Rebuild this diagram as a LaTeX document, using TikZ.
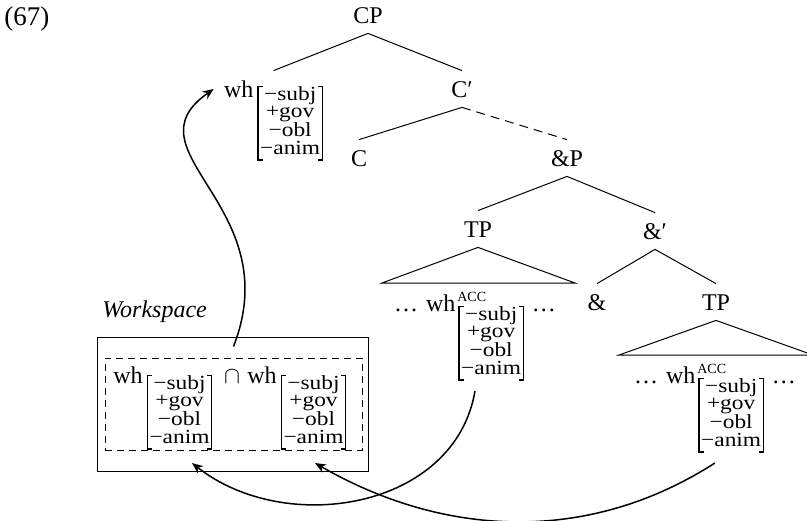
\documentclass[tikz,border=0pt]{standalone}
\usepackage{fontspec}
\setmainfont{Liberation Serif}
\newfontfamily\featfont[FakeStretch=1.17]{Liberation Serif}
\usetikzlibrary{arrows.meta}
\newsavebox{\fbx}
\newcommand{\fmat}{%
\sbox{\fbx}{\featfont\fontsize{10}{8.3}\selectfont\begin{tabular}[b]{@{}c@{}}−subj\\+gov\\−obl\\−anim\end{tabular}}%
\rlap{\rule[\dimexpr-\dp\fbx-0.5pt\relax]{2.6pt}{0.6pt}}%
\rlap{\rule[\dimexpr\ht\fbx-0.1pt\relax]{2.6pt}{0.6pt}}%
\rule[\dimexpr-\dp\fbx-0.5pt\relax]{0.6pt}{\dimexpr\ht\fbx+\dp\fbx+1pt\relax}%
\hspace{0.8pt}\usebox{\fbx}\hspace{0.8pt}%
\rule[\dimexpr-\dp\fbx-0.5pt\relax]{0.6pt}{\dimexpr\ht\fbx+\dp\fbx+1pt\relax}%
\llap{\rule[\dimexpr-\dp\fbx-0.5pt\relax]{2.6pt}{0.6pt}}%
\llap{\rule[\dimexpr\ht\fbx-0.1pt\relax]{2.6pt}{0.6pt}}}
\newcommand{\whfeat}[1]{wh\hspace{2pt}\raisebox{\dimexpr#1-\height\relax}{\fmat}}
\newcommand{\whacc}{\ldots\hspace{4pt}wh\rlap{\hspace{1pt}\raisebox{4.8pt}{\fontsize{7}{7}\selectfont ACC}}\hspace{1.5pt}\raisebox{\dimexpr2.5pt-\height\relax}{\fmat}\hspace{4pt}\ldots}
\begin{document}
\begin{tikzpicture}[x=0.5pt,y=-0.5pt,font=\fontsize{12}{14}\selectfont,
  tn/.style={inner sep=0pt,text height=13pt,text depth=5pt,anchor=base},
  accn/.style={inner xsep=0pt,inner ysep=5pt,anchor=base},
  edge/.style={line width=0.5pt},
  dashededge/.style={line width=0.5pt,dash pattern=on 4.5pt off 3pt},
  arr/.style={line width=0.75pt,-{Stealth[length=5.5pt,width=4.5pt]}},
  box/.style={draw,line width=0.5pt,inner sep=0pt}]
\useasboundingbox (0,0) rectangle (807,520);
% example number
\node[anchor=base west,inner sep=0pt,font=\fontsize{13.5}{15}\selectfont] (ex) at (4,25) {(67)};
% tree
\node[tn] (CP) at (368,23) {CP};
\node[tn] (wh0) at (273.5,97) {\whfeat{5.5pt}};
\node[tn] (Cb) at (462,97) {C′};
\node[tn] (C) at (359,166) {C};
\node[tn] (aP) at (567,166) {\&P};
\node[tn] (TP1) at (478,237) {TP};
\node[tn] (ab) at (655,239) {\&′};
\node[tn] (amp) at (597,310) {\&};
\node[tn] (TP2) at (716,310) {TP};
\node[accn] (acc1) at (475,311) {\whacc};
\node[accn] (acc2) at (715,383) {\whacc};
\coordinate (t1l) at (382,283);
\coordinate (t1r) at (575,283);
\coordinate (t2l) at (619,355);
\coordinate (t2r) at (813,355);
\draw[edge] (CP.south) -- (wh0.north);
\draw[edge] (CP.south) -- (Cb.north);
\draw[edge] (Cb.south) -- (C.north);
\draw[dashededge] (Cb.south) -- (aP.north);
\draw[edge] (aP.south) -- (TP1.north);
\draw[edge] (aP.south) -- (ab.north);
\draw[edge] (ab.south) -- (amp.north);
\draw[edge] (ab.south) -- (TP2.north);
\draw[edge] (TP1.south) -- (t1l) -- (t1r) -- cycle;
\draw[edge] (TP2.south) -- (t2l) -- (t2r) -- cycle;
% workspace
\node[anchor=base west,inner sep=0pt] (wslabel) at (102,317) {\itshape Workspace};
\node[box,minimum width=135.5pt,minimum height=67pt] (wsbox) at (232.5,404) {};
\node[box,dash pattern=on 3.5pt off 2.5pt,minimum width=128.5pt,minimum height=46pt] (ws) at (233.5,404) {};
\node[anchor=base west,inner sep=0pt] (ws1) at (113,383) {\whfeat{4pt}};
\node[anchor=base,inner sep=0pt] (cap) at (232,383) {$\cap$};
\node[anchor=base west,inner sep=0pt] (ws2) at (247,383) {\whfeat{4pt}};
% arrows
\coordinate (tip0) at ([xshift=-5pt]wh0.west);
\coordinate (src0) at ([yshift=5.5pt]ws.north);
\coordinate (tip1) at (192,463);
\coordinate (tip2) at (315,463);
\draw[arr] (src0) .. controls +(55,-141) and +(-90,63) .. (tip0);
\draw[arr] (acc1.south) .. controls +(-20,118) and +(94,74) .. (tip1);
\draw[arr] (acc2.south) .. controls +(-126,81) and +(130,75) .. (tip2);
\end{tikzpicture}
\end{document}
